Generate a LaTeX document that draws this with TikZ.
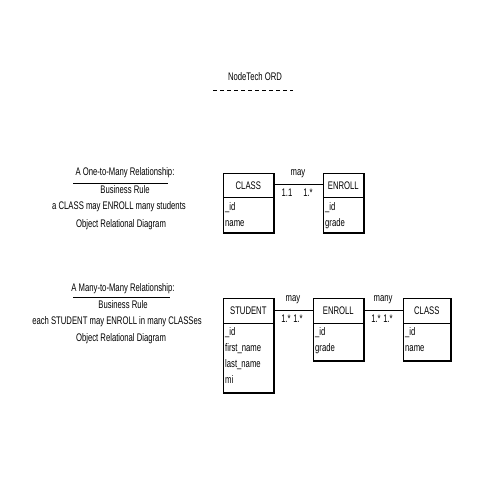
\documentclass[tikz,border=0pt]{standalone}
\usepackage{fontspec}
\setmainfont{Liberation Sans}[FakeStretch=0.7]
\begin{document}
\begin{tikzpicture}[x=1pt,y=-1pt,
  txt/.style={inner sep=0pt, font=\fontsize{11}{13}\selectfont},
  hdr/.style={draw, line width=0.6pt, anchor=north west, inner sep=0pt, font=\fontsize{11}{13}\selectfont},
  body/.style={draw, line width=0.6pt, anchor=north west, inner sep=0pt},
  attrs/.style={anchor=north west, inner sep=0pt, align=left, font=\fontsize{11}{16}\selectfont},
  conn/.style={line width=0.6pt},
  shad/.style={line width=1pt}]
\useasboundingbox (0,0) rectangle (500,500);
% title
\node[txt] (title) at (255,77) {NodeTech ORD};
\coordinate (tl) at (213,90); \coordinate (tr) at (293,90);
\draw[dash pattern=on 4pt off 3pt, line width=0.6pt] (tl) -- (tr);
% left texts 1
\node[txt] (r1) at (125,173) {A One-to-Many Relationship:};
\coordinate (u1a) at (73,183); \coordinate (u1b) at (168,183);
\draw[line width=0.6pt] (u1a) -- (u1b);
\node[txt] (b1) at (125,190) {Business Rule};
\node[txt] (s1) at (119,207) {a CLASS may ENROLL many students};
\node[txt] (o1) at (121,225) {Object Relational Diagram};
% left texts 2
\node[txt] (r2) at (123,289) {A Many-to-Many Relationship:};
\coordinate (u2a) at (73,297); \coordinate (u2b) at (170,297);
\draw[line width=0.6pt] (u2a) -- (u2b);
\node[txt] (b2) at (123,305) {Business Rule};
\node[txt] (s2) at (117,322) {each STUDENT may ENROLL in many CLASSes};
\node[txt] (o2) at (121,339) {Object Relational Diagram};
% diagram 1
\node[hdr, minimum width=50, minimum height=24] (c1h) at (223,173) {CLASS};
\node[body, minimum width=50, minimum height=35] (c1b) at (223,197) {};
\node[attrs] (c1a) at (225,202) {\_id\\name};
\node[hdr, minimum width=40, minimum height=24] (e1h) at (323,173) {ENROLL};
\node[body, minimum width=40, minimum height=35] (e1b) at (323,197) {};
\node[attrs] (e1a) at (325,202) {\_id\\grade};
\draw[conn] ([yshift=1.5pt]c1h.east) -- ([yshift=1.5pt]e1h.west);
\node[txt] (m1) at (298,174) {may};
\node[txt] (m1a) at (287,193) {1.1};
\node[txt] (m1b) at (308,193) {1.*};
% diagram 2
\node[hdr, minimum width=50, minimum height=25] (sh) at (223,298) {STUDENT};
\node[body, minimum width=50, minimum height=69] (sb) at (223,323) {};
\node[attrs] (sa) at (225,327) {\_id\\first\_name\\last\_name\\mi};
\node[hdr, minimum width=50, minimum height=25] (e2h) at (313,298) {ENROLL};
\node[body, minimum width=50, minimum height=37] (e2b) at (313,323) {};
\node[attrs] (e2a) at (315,327) {\_id\\grade};
\node[hdr, minimum width=47, minimum height=25] (c2h) at (403,298) {CLASS};
\node[body, minimum width=47, minimum height=37] (c2b) at (403,323) {};
\node[attrs] (c2a) at (405,327) {\_id\\name};
\draw[conn] ([yshift=1pt]sh.east) -- ([yshift=1pt]e2h.west);
\draw[conn] ([yshift=1pt]e2h.east) -- ([yshift=1pt]c2h.west);
\node[txt] (m2) at (293,300) {may};
\node[txt] (m2a) at (286,319) {1.*};
\node[txt] (m2b) at (298,319) {1.*};
\node[txt] (m3) at (383,300) {many};
\node[txt] (m3a) at (376,319) {1.*};
\node[txt] (m3b) at (388,319) {1.*};
% shadows (right & bottom thicker)
\foreach \h/\b in {c1h/c1b,e1h/e1b,sh/sb,e2h/e2b,c2h/c2b}{
  \draw[shad] ([xshift=0.5pt]\h.north east) -- ([xshift=0.5pt,yshift=-0.5pt]\b.south east) -- ([yshift=-0.5pt]\b.south west);
}
\end{tikzpicture}
\end{document}
